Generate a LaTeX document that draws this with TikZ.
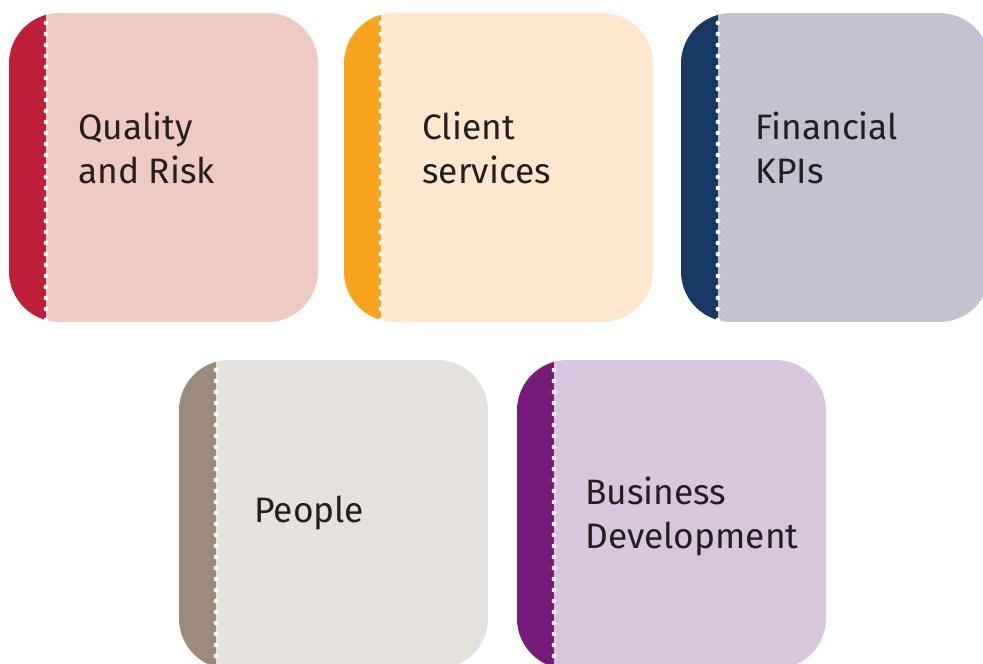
\documentclass[tikz,border=0pt]{standalone}
\usepackage{fontspec}
\setmainfont{Fira Sans}
\usepackage{xcolor}
\definecolor{ink}{HTML}{231F20}
\definecolor{riskdark}{HTML}{BE1E37}
\definecolor{risklight}{HTML}{EECBC1}
\definecolor{clientdark}{HTML}{F7A51E}
\definecolor{clientlight}{HTML}{FDE8CD}
\definecolor{findark}{HTML}{173963}
\definecolor{finlight}{HTML}{C3C2D0}
\definecolor{peopledark}{HTML}{9C8B7B}
\definecolor{peoplelight}{HTML}{E5E1DC}
\definecolor{bizdark}{HTML}{761B7A}
\definecolor{bizlight}{HTML}{D9C6DE}
\tikzset{
  perf/.style={draw=white, line width=3.6pt, line cap=round, dash pattern=on 0pt off 8.25pt},
  lab/.style={text=ink, font=\fontsize{26.5}{33}\selectfont, align=left, inner sep=0pt, anchor=base west},
}

\begin{document}
\begin{tikzpicture}[x=0.75pt,y=-0.75pt]
  \clip (0,0) rectangle (983,664);
  \def\w{309}
  \def\s{37}
  \foreach \x/\y/\dk/\lt in {9/13/riskdark/risklight, 344/13/clientdark/clientlight,
      681/13/findark/finlight, 179/360/peopledark/peoplelight, 517/360/bizdark/bizlight}{
    \begin{scope}
      \clip[rounded corners=38] (\x,\y) rectangle ++(\w,\w);
      \fill[\lt] (\x,\y) rectangle ++(\w,\w);
      \fill[\dk] (\x,\y) rectangle ++(\s,\w);
    \end{scope}
    \draw[perf] (\x+\s,\y+10) -- (\x+\s,\y+\w);
  }
  % base anchor sits on the last line
  \node[lab] (quality) at (78,183) {Quality\\and Risk};
  \node[lab] (client) at (422,183) {Client\\services};
  \node[lab] (finance) at (755,183) {Financial\\KPIs};
  \node[lab] (people) at (254,522) {People};
  \node[lab] (business) at (585,548) {Business\\Development};
\end{tikzpicture}
\end{document}
